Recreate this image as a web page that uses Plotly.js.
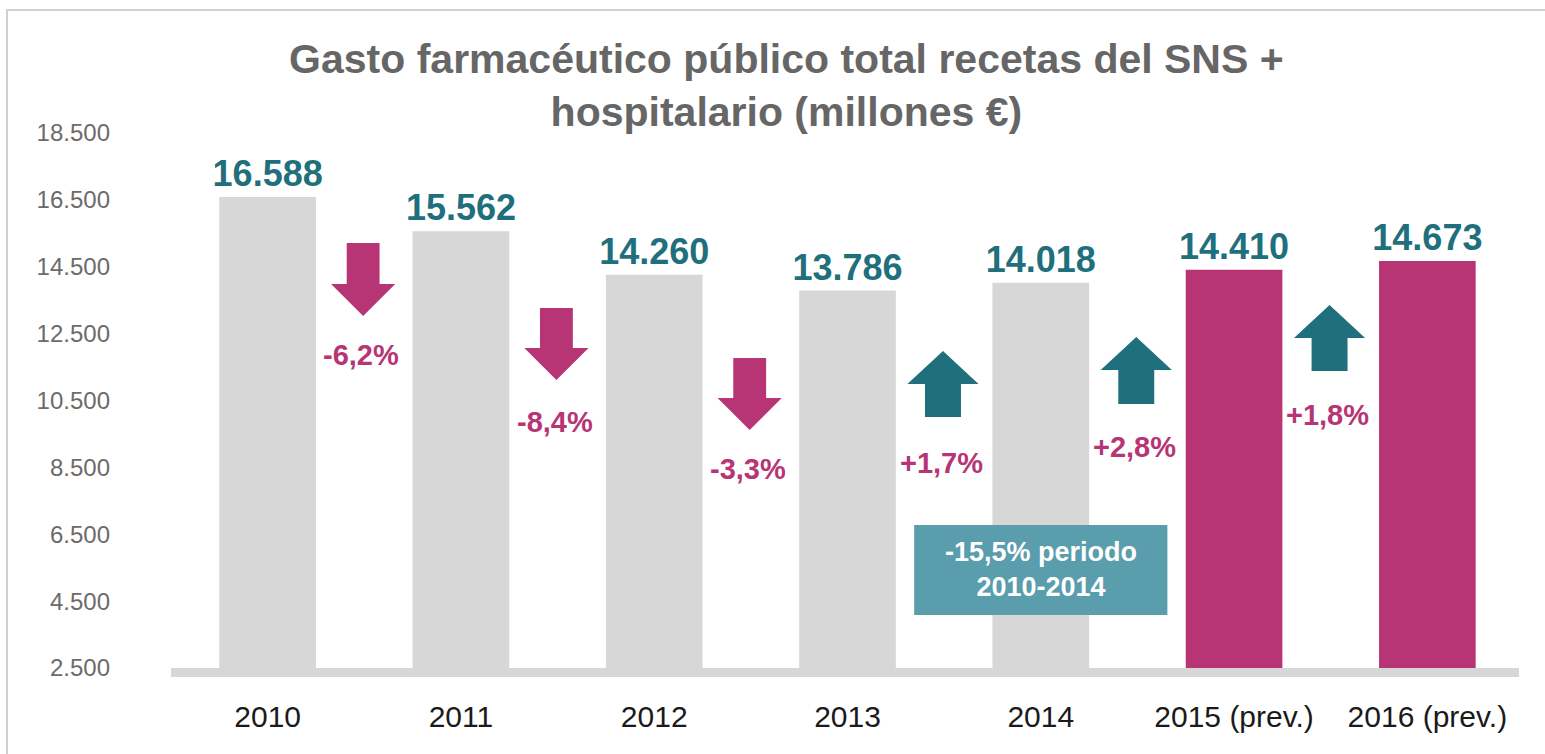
<!DOCTYPE html>
<html>
<head>
<meta charset="utf-8">
<script src="https://cdn.plot.ly/plotly-3.0.1.min.js"></script>
<style>
html,body{margin:0;padding:0;background:#fff;overflow:hidden;}
#frame{position:absolute;left:6px;top:9px;width:1700px;height:900px;border-left:2px solid #cfcfcf;border-top:2px solid #cfcfcf;}
#chart{position:absolute;left:0;top:0;width:1545px;height:754px;}
</style>
</head>
<body>
<div id="frame"></div>
<div id="chart"></div>
<script>
// ---- data ----
const categories = ['2010', '2011', '2012', '2013', '2014', '2015 (prev.)', '2016 (prev.)'];
const spending = [16588, 15562, 14260, 13786, 14018, 14410, 14673];
const isForecast = [false, false, false, false, false, true, true];
const changeLabels = ['-6,2%', '-8,4%', '-3,3%', '+1,7%', '+2,8%', '+1,8%'];
const yTickValues = [2500, 4500, 6500, 8500, 10500, 12500, 14500, 16500, 18500];
const titleText = 'Gasto farmacéutico público total recetas del SNS +<br>hospitalario (millones €)';
const periodNote = '-15,5% periodo<br>2010-2014';

// ---- layout helpers (annotation placement, in axis units) ----
const arrowTail = [15210, 13267, 11771, 10007, 10396, 11382];
const arrowTip  = [13027, 11113, 9618, 11981, 12399, 13356];
const changeLabelY = [11861, 9857, 8452, 8631, 9109, 10066];

const GREY = '#d7d7d7', MAGENTA = '#b73574', TEAL = '#1f6f7c', BOX = '#5a9dad';
const FONT = 'Liberation Sans, Arial, sans-serif';
const PX_Y = 16000 / 535;   // axis units per pixel (vertical)

const xIdx = categories.map((c, i) => i);

function arrowPath(xc, tail, tip) {
  const up = tip > tail;
  const hw = up ? 0.184 : 0.166, sw = up ? 0.093 : 0.085;
  const hh = (up ? 33 : 32) * PX_Y;
  const base = up ? tip - hh : tip + hh;
  return `M ${xc - sw},${tail} L ${xc + sw},${tail} L ${xc + sw},${base} L ${xc + hw},${base} L ${xc},${tip} L ${xc - hw},${base} L ${xc - sw},${base} Z`;
}

const shapes = [];
const annotations = [];
changeLabels.forEach((lab, i) => {
  const xc = i + 0.5;
  const up = arrowTip[i] > arrowTail[i];
  shapes.push({
    type: 'path', xref: 'x', yref: 'y', layer: 'above',
    path: arrowPath(xc - 0.006, arrowTail[i], arrowTip[i]),
    fillcolor: up ? TEAL : MAGENTA, line: {width: 0}
  });
  annotations.push({
    x: xc, y: changeLabelY[i], xref: 'x', yref: 'y', xshift: -3,
    text: '<b>' + lab + '</b>', showarrow: false,
    font: {family: FONT, size: 29, color: MAGENTA}
  });
});
// axis band
shapes.push({type: 'line', xref: 'paper', yref: 'paper', x0: 0, x1: 0.9963, y0: -4.5 / 535, y1: -4.5 / 535,
  line: {color: GREY, width: 9}, layer: 'above'});
// period box
shapes.push({type: 'rect', xref: 'x', yref: 'y', x0: 4 - 0.655, x1: 4 + 0.655, y0: 4085, y1: 6777,
  fillcolor: BOX, line: {width: 0}, layer: 'above'});
annotations.push({x: 4, y: 5431, xref: 'x', yref: 'y', showarrow: false,
  text: '<b>' + periodNote + '</b>', font: {family: FONT, size: 27, color: '#ffffff'}});

const trace = {
  type: 'bar',
  x: xIdx,
  y: spending,
  width: 0.5,
  marker: {color: isForecast.map(f => f ? MAGENTA : GREY), line: {width: 0}},
  texttemplate: '<b>%{y:,}</b>',
  textposition: 'outside',
  constraintext: 'none',
  cliponaxis: false,
  textfont: {family: FONT, size: 36, color: TEAL},
  hoverinfo: 'skip'
};

const layout = {
  width: 1545, height: 754,
  margin: {l: 171, r: 21, t: 133, b: 86},
  paper_bgcolor: 'rgba(0,0,0,0)', plot_bgcolor: 'rgba(0,0,0,0)',
  separators: ',.',
  showlegend: false,
  title: {
    text: '<b>' + titleText + '</b>',
    font: {family: FONT, size: 41, color: '#666666'},
    xref: 'container', x: 0.509, xanchor: 'center',
    yref: 'container', y: 1 - 73 / 754, yanchor: 'top'
  },
  xaxis: {
    type: 'linear', range: [-0.5, 6.5],
    tickvals: xIdx, ticktext: categories,
    showgrid: false, zeroline: false, showline: false, ticks: '',
    ticklabelstandoff: 28,
    tickfont: {family: FONT, size: 30, color: '#1a1a1a'}
  },
  yaxis: {
    range: [2500, 18500],
    tickvals: yTickValues, tickformat: ',',
    showgrid: false, zeroline: false, showline: false, ticks: '',
    ticklabelstandoff: 60,
    tickfont: {family: FONT, size: 24, color: '#6b6b6b'}
  },
  shapes: shapes,
  annotations: annotations,
  hovermode: false
};

Plotly.newPlot('chart', [trace], layout, {displayModeBar: false, staticPlot: true});
</script>
</body>
</html>
